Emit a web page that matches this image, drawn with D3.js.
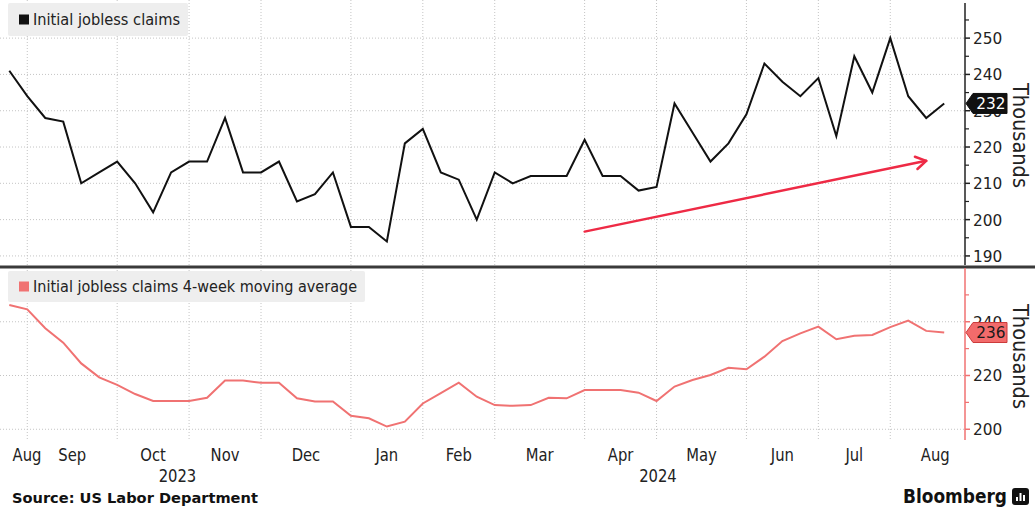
<!DOCTYPE html>
<html>
<head>
<meta charset="utf-8">
<script src="https://cdn.jsdelivr.net/npm/d3@7"></script>
<style>
  html, body { margin: 0; padding: 0; background: #fff; }
  svg { display: block; font-family: "DejaVu Sans", "Noto Sans", sans-serif; }
</style>
</head>
<body>
<svg id="chart" width="1035" height="508"></svg>
<script>
// Weekly US initial jobless claims (thousands), weeks dated on Fridays
const firstWeek = "2023-08-18";
const initialClaims = [241, 234, 228, 227, 210, 213, 216, 210, 202, 213,
                       216, 216, 228, 213, 213, 216, 205, 207, 213, 198,
                       198, 194, 221, 225, 213, 211, 200, 213, 210, 212,
                       212, 212, 222, 212, 212, 208, 209, 232, 224, 216,
                       221, 229, 243, 238, 234, 239, 223, 245, 235, 250,
                       234, 228, 232];
const movingAverage4w = [246.2, 244.6, 237.6, 232.2, 224.5, 219.3, 216.5, 213.1, 210.5, 210.5,
                         210.5, 211.7, 218.1, 218.1, 217.3, 217.3, 211.5, 210.3, 210.3, 205.0,
                         204.1, 201.0, 202.8, 209.6, 213.4, 217.3, 212.1, 209.0, 208.7, 209.0,
                         211.7, 211.5, 214.6, 214.6, 214.6, 213.6, 210.5, 215.9, 218.3, 220.2,
                         222.9, 222.3, 227.0, 232.8, 235.7, 238.2, 233.5, 234.8, 235.1, 238.0,
                         240.4, 236.6, 236.0];
const claimsTicks = [190, 200, 210, 220, 230, 240, 250];
const claimsMinorTicks = [195, 205, 215, 225, 235, 245, 255];
const avgTicks = [200, 220, 240];
const avgMinorTicks = [210, 230, 250];
const monthLabels = ["Aug", "Sep", "Oct", "Nov", "Dec", "Jan", "Feb", "Mar", "Apr", "May", "Jun", "Jul", "Aug"];
const yearLabels = ["2023", "2024"];
// Trend annotation: [week, thousands] at each end
const trendArrow = [["2024-03-29", 196.7], ["2024-08-09", 216.2]];

const svg = d3.select("#chart");
const parse = d3.utcParse("%Y-%m-%d");
const weeks = initialClaims.map((_, i) => d3.utcDay.offset(parse(firstWeek), 7 * i));

const plotLeft = 4, plotRight = 965;
const x = d3.scaleUtc().domain([weeks[0], weeks[weeks.length - 1]]).range([9.3, 944.2]);
const yTop = d3.scaleLinear().domain([187.5, 260.5]).range([265, 0]);
const yBot = d3.scaleLinear().domain([196, 260]).range([440, 268]);

const RED = "#f07272";
const gridColor = "#c4c4c4";

// squeeze text horizontally to mimic a condensed face
function squeeze(sel, k) {
  sel.each(function () {
    const w = this.getComputedTextLength();
    d3.select(this).attr("textLength", w * k).attr("lengthAdjust", "spacingAndGlyphs");
  });
}

// month boundaries: last week of each month
const monthEnds = weeks.filter((d, i) => i < weeks.length - 1 && weeks[i + 1].getUTCMonth() !== d.getUTCMonth());

// ---------- gridlines ----------
const grid = svg.append("g").attr("stroke", gridColor).attr("stroke-width", 1).attr("stroke-dasharray", "1,2");
grid.selectAll(".vt").data(monthEnds).join("line")
  .attr("x1", d => x(d)).attr("x2", d => x(d)).attr("y1", yTop.range()[1]).attr("y2", yTop.range()[0]);
grid.selectAll(".vb").data(monthEnds).join("line").attr("class", "vb")
  .attr("x1", d => x(d)).attr("x2", d => x(d)).attr("y1", yBot.range()[1] + 2).attr("y2", yBot.range()[0]);
grid.selectAll(".ht").data(claimsTicks).join("line").attr("class", "ht")
  .attr("x1", 0).attr("x2", plotRight).attr("y1", d => yTop(d)).attr("y2", d => yTop(d));
grid.selectAll(".hb").data(avgTicks).join("line").attr("class", "hb")
  .attr("x1", 0).attr("x2", plotRight).attr("y1", d => yBot(d)).attr("y2", d => yBot(d));

// ---------- legends ----------
function legend(y0, h, w, color, label, textW) {
  const g = svg.append("g");
  g.append("rect").attr("x", 8).attr("y", y0).attr("width", w).attr("height", h)
    .attr("rx", 2).attr("fill", "#eeeeee");
  g.append("rect").attr("x", 19).attr("y", y0 + h / 2 - 5).attr("width", 10).attr("height", 10).attr("fill", color);
  g.append("text").attr("x", 33).attr("y", y0 + h / 2 + 5.5).attr("font-size", 15.5).attr("fill", "#222")
    .text(label).attr("textLength", textW).attr("lengthAdjust", "spacingAndGlyphs");
}
legend(3, 33, 180, "#111", "Initial jobless claims", 147);
legend(271, 31, 357, RED, "Initial jobless claims 4-week moving average", 324);

// ---------- series ----------
svg.append("path").datum(initialClaims)
  .attr("fill", "none").attr("stroke", "#111").attr("stroke-width", 2).attr("stroke-linejoin", "miter")
  .attr("d", d3.line().x((d, i) => x(weeks[i])).y(d => yTop(d)));
svg.append("path").datum(movingAverage4w)
  .attr("fill", "none").attr("stroke", RED).attr("stroke-width", 2)
  .attr("d", d3.line().x((d, i) => x(weeks[i])).y(d => yBot(d)));

// ---------- trend arrow ----------
const [a0, a1] = trendArrow.map(([d, v]) => [x(parse(d)), yTop(v)]);
const ang = Math.atan2(a1[1] - a0[1], a1[0] - a0[0]);
const head = 12, spread = 0.55;
const arrow = svg.append("g").attr("stroke", "#ee2a45").attr("stroke-width", 2.5).attr("fill", "none")
  .attr("stroke-linecap", "round").attr("stroke-linejoin", "round");
arrow.append("line").attr("x1", a0[0]).attr("y1", a0[1]).attr("x2", a1[0]).attr("y2", a1[1]);
arrow.append("path").attr("d", d3.line()([
  [a1[0] - head * Math.cos(ang - spread), a1[1] - head * Math.sin(ang - spread)],
  a1,
  [a1[0] - head * Math.cos(ang + spread), a1[1] - head * Math.sin(ang + spread)]
]));

// ---------- panel separator ----------
svg.append("line").attr("x1", 0).attr("x2", 1035).attr("y1", 267).attr("y2", 267)
  .attr("stroke", "#3a3a3a").attr("stroke-width", 3);

// ---------- right axes ----------
function rightAxis(scale, major, minor, color, yFrom) {
  const g = svg.append("g");
  g.append("line").attr("x1", plotRight).attr("x2", plotRight)
    .attr("y1", yFrom).attr("y2", scale.range()[0]).attr("stroke", color).attr("stroke-width", 1.5);
  g.selectAll(".mj").data(major).join("line").attr("class", "mj")
    .attr("x1", plotRight).attr("x2", plotRight + 5).attr("y1", d => scale(d)).attr("y2", d => scale(d))
    .attr("stroke", color).attr("stroke-width", 1.5);
  g.selectAll(".mn").data(minor).join("line").attr("class", "mn")
    .attr("x1", plotRight).attr("x2", plotRight + 4).attr("y1", d => scale(d)).attr("y2", d => scale(d))
    .attr("stroke", color).attr("stroke-width", 1.2);
  g.selectAll("text").data(major).join("text")
    .attr("x", plotRight + 8).attr("y", d => scale(d)).attr("dy", "0.36em")
    .attr("font-size", 16.5).attr("fill", "#222").text(d => d)
    .call(squeeze, 0.93);
}
rightAxis(yTop, claimsTicks, claimsMinorTicks, "#222", 3);
rightAxis(yBot, avgTicks, avgMinorTicks, RED, 268);

// axis titles
[[yTop, 135.5], [yBot, 356.5]].forEach(([s, cy]) => {
  svg.append("text").attr("transform", `translate(1013,${cy}) rotate(90)`)
    .attr("text-anchor", "middle").attr("font-size", 21).attr("fill", "#222")
    .text("Thousands").attr("textLength", 105).attr("lengthAdjust", "spacingAndGlyphs");
});

// ---------- last-value tags ----------
function valueTag(yv, fill, stroke, textColor, label) {
  const h = 10, x0 = plotRight + 1, x1 = plotRight + 8, x2 = 1007;
  svg.append("path")
    .attr("d", `M${x0},${yv} L${x1},${yv - h} L${x2},${yv - h} L${x2},${yv + h} L${x1},${yv + h} Z`)
    .attr("fill", fill).attr("stroke", stroke).attr("stroke-width", 1);
  svg.append("text").attr("x", (x1 + x2) / 2 + 1).attr("y", yv).attr("dy", "0.36em")
    .attr("text-anchor", "middle").attr("font-size", 16.5).attr("fill", textColor).text(label)
    .call(squeeze, 0.93);
}
const lastClaims = initialClaims[initialClaims.length - 1];
const lastAvg = movingAverage4w[movingAverage4w.length - 1];
valueTag(yTop(lastClaims), "#111", "#111", "#fff", d3.format("d")(lastClaims));
valueTag(yBot(lastAvg), "#f26b6b", "#cc3b3b", "#1a1a1a", d3.format("d")(lastAvg));

// ---------- x axis: months centred in their spans, years below ----------
const bounds = [d3.utcDay.offset(monthEnds[0], -28), ...monthEnds, d3.utcDay.offset(monthEnds[monthEnds.length - 1], 35)];
const monthG = svg.append("g").attr("font-size", 17).attr("fill", "#222").attr("text-anchor", "middle");
monthLabels.forEach((m, i) => {
  const cx = Math.max((x(bounds[i]) + x(bounds[i + 1])) / 2, 27);
  monthG.append("text").attr("x", cx).attr("y", 461).text(m);
});
monthG.selectAll("text").call(squeeze, 0.87);

const yearBreak = x(monthEnds.find(d => d.getUTCMonth() === 11));
const yearG = svg.append("g").attr("font-size", 17).attr("fill", "#222").attr("text-anchor", "middle");
yearG.append("text").attr("x", (plotLeft + yearBreak) / 2).attr("y", 482).text(yearLabels[0]);
yearG.append("text").attr("x", (yearBreak + plotRight) / 2).attr("y", 482).text(yearLabels[1]);
yearG.selectAll("text").call(squeeze, 0.87);

// ---------- footer ----------
svg.append("text").attr("x", 12).attr("y", 503).attr("font-size", 14.6).attr("font-weight", "bold")
  .attr("fill", "#111").text("Source: US Labor Department");
svg.append("text").attr("x", 1007).attr("y", 503).attr("text-anchor", "end")
  .attr("font-size", 20).attr("font-weight", "bold").attr("fill", "#111")
  .text("Bloomberg").attr("textLength", 104).attr("lengthAdjust", "spacingAndGlyphs");
// logo mark
const logo = svg.append("g").attr("transform", "translate(1012,488)");
logo.append("rect").attr("width", 17).attr("height", 17).attr("rx", 3).attr("fill", "#111");
[[4, 9, 4], [7.5, 5, 8], [11, 7, 6]].forEach(([bx, by, bh]) =>
  logo.append("rect").attr("x", bx).attr("y", by).attr("width", 2).attr("height", bh).attr("fill", "#fff"));
</script>
</body>
</html>
